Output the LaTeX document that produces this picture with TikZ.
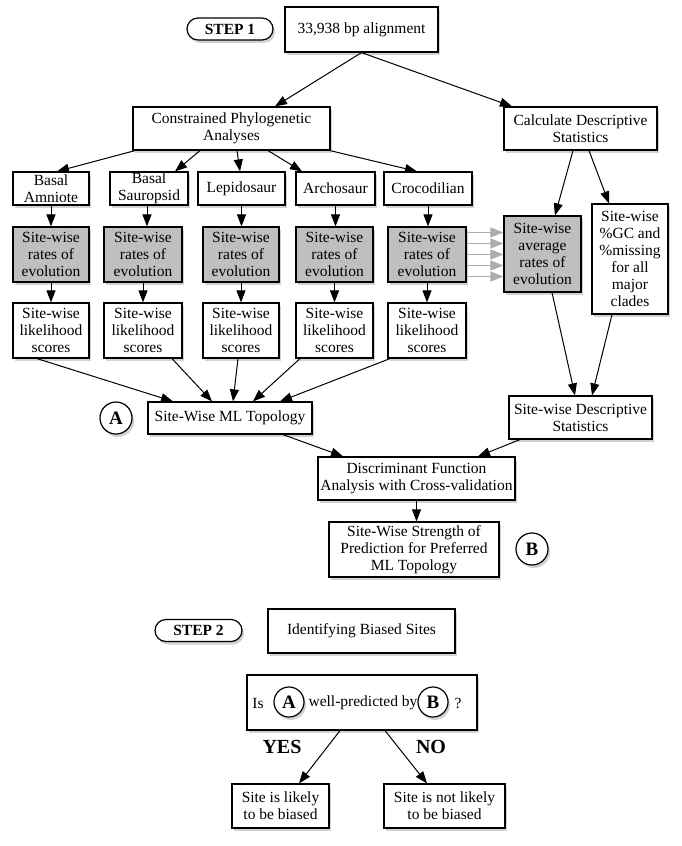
\documentclass[tikz,border=0pt]{standalone}
\usepackage{fontspec}
\setmainfont{Liberation Serif}
\usetikzlibrary{arrows.meta,shadows,calc}
\begin{document}
\begin{tikzpicture}[x=1pt,y=-1pt,
  shad/.style={drop shadow={shadow xshift=2pt,shadow yshift=-3pt,opacity=0.35}},
  box/.style={draw=black,line width=1.2pt,fill=white,align=center,inner sep=0pt,
    font=\fontsize{15.5}{17}\selectfont,shad},
  gbox/.style={box,fill=gray!50},
  sz/.style 2 args={minimum width=#1,minimum height=#2},
  pill/.style={box,rounded corners=11pt,font=\fontsize{15.5}{17}\selectfont\bfseries},
  lett/.style={draw=black,line width=1.2pt,fill=white,circle,inner sep=0pt,minimum size=32pt,
    font=\fontsize{19}{21}\selectfont\bfseries,shad},
  arr/.style={line width=1pt,-{Triangle[length=12pt,width=9pt]}},
  garr/.style={line width=1.3pt,draw=gray!65,-{Triangle[length=13pt,width=10pt]},color=gray!65},
  txt/.style={inner sep=0pt,font=\fontsize{15.5}{17}\selectfont},
  big/.style={inner sep=0pt,font=\fontsize{20}{22}\selectfont\bfseries}
]
\fill[white] (0,0) rectangle (682,846);
\useasboundingbox (0,0) rectangle (682,846);

% STEP 1
\node[pill,sz={86pt}{22pt}] (step1) at (230,29) {STEP 1};
\node[box,sz={153pt}{45pt}] (align) at (361.5,29.5) {33,938 bp alignment};
\node[box,sz={197pt}{43pt}] (cpa) at (231.5,128.5) {Constrained Phylogenetic\\Analyses};
\node[box,sz={153pt}{43pt}] (cds) at (580.5,128.5) {Calculate Descriptive\\Statistics};

\node[box,sz={76pt}{33pt}] (ba) at (51,188.5) {Basal\\Amniote};
\node[box,sz={78pt}{33pt}] (bs) at (149,188.5) {Basal\\Sauropsid};
\node[box,sz={87pt}{33pt}] (le) at (241.5,188.5) {Lepidosaur};
\node[box,sz={79pt}{33pt}] (ar) at (335.5,188.5) {Archosaur};
\node[box,sz={88pt}{33pt}] (cr) at (428,188.5) {Crocodilian};

\foreach \n/\x/\w in {1/51/76,2/143/78,3/241/76,4/334.5/77,5/427/78}{
  \node[gbox,sz={\w pt}{55pt}] (r\n) at (\x,254.5) {Site-wise\\rates of\\evolution};
  \node[box,sz={\w pt}{55pt}] (l\n) at (\x,330.5) {Site-wise\\likelihood\\scores};
}

\node[gbox,sz={77pt}{76pt}] (avg) at (542.5,254) {Site-wise\\average\\rates of\\evolution};
\node[box,sz={76pt}{110pt}] (gc) at (630,259) {Site-wise\\\%GC and\\\%missing\\for all\\major\\clades};

\node[lett] (A) at (116,418) {A};
\node[box,sz={164pt}{32pt}] (ml) at (230,418) {Site-Wise ML Topology};
\node[box,sz={143pt}{43pt}] (sds) at (580.5,417.5) {Site-wise Descriptive\\Statistics};
\node[box,sz={197pt}{43pt}] (dfa) at (416.5,478.5) {Discriminant Function\\Analysis with Cross-validation};
\node[box,sz={170pt}{55pt}] (str) at (414,549.5) {Site-Wise Strength of\\Prediction for Preferred\\ML Topology};
\node[lett] (B) at (532,549) {B};

% arrows step 1
\draw[arr] (align.south) -- ([xshift=43.5pt]cpa.north);
\draw[arr] (align.south) -- ([xshift=-68.5pt]cds.north);
\draw[arr] ([xshift=-96.5pt]cpa.south) -- ([xshift=6pt]ba.north);
\draw[arr] ([xshift=-31.5pt]cpa.south) -- ([xshift=26pt]bs.north);
\draw[arr] ([xshift=5.5pt]cpa.south) -- ([xshift=-1.5pt]le.north);
\draw[arr] ([xshift=36.5pt]cpa.south) -- ([xshift=-33.5pt]ar.north);
\draw[arr] ([xshift=98.5pt]cpa.south) -- ([xshift=-11pt]cr.north);
\draw[arr] (ba.south) -- (ba.south |- r1.north);
\draw[arr] ([xshift=-2pt]bs.south) -- ([xshift=-2pt]bs.south |- r2.north);
\draw[arr] (le.south) -- (le.south |- r3.north);
\draw[arr] (ar.south) -- (ar.south |- r4.north);
\draw[arr] (cr.south) -- (cr.south |- r5.north);
\foreach \n in {1,...,5}{\draw[arr] (r\n.south) -- (l\n.north);}
\foreach \d in {22,11,0,-11,-22}{\draw[garr] ([yshift=\d pt]r5.east) -- ([yshift=\d pt]r5.east -| avg.west);}
\draw[arr] ([xshift=-7.5pt]cds.south) -- ([xshift=12.5pt]avg.north);
\draw[arr] ([xshift=8.5pt]cds.south) -- ([xshift=-21pt]gc.north);
\draw[arr] ([xshift=9.5pt]avg.south) -- ([xshift=-5.5pt]sds.north);
\draw[arr] ([xshift=-18pt]gc.south) -- ([xshift=11.5pt]sds.north);
\draw[arr] ([xshift=-14pt]l1.south) -- ([xshift=-57pt]ml.north);
\draw[arr] ([xshift=29pt]l2.south) -- ([xshift=-18pt]ml.north);
\draw[arr] ([xshift=-3pt]l3.south) -- ([xshift=3pt]ml.north);
\draw[arr] ([xshift=-34.5pt]l4.south) -- ([xshift=23pt]ml.north);
\draw[arr] ([xshift=-37pt]l5.south) -- ([xshift=50pt]ml.north);
\draw[arr] ([xshift=53pt]ml.south) -- ([xshift=-73.5pt]dfa.north);
\draw[arr] ([xshift=-60.5pt]sds.south) -- ([xshift=61.5pt]dfa.north);
\draw[arr] (dfa.south) -- (dfa.south |- str.north);

% STEP 2
\node[pill,sz={87pt}{22pt}] (step2) at (198.5,630.5) {STEP 2};
\node[box,sz={187pt}{44pt}] (ibs) at (361.5,631) {Identifying Biased Sites};
\node[box,sz={230pt}{55pt}] (isbox) at (362,702.5) {};
\node[txt] (is) at (258,703) {Is};
\node[lett,minimum size=30pt,drop shadow={opacity=0}] (A2) at (289,702) {A};
\node[txt] (wp) at (363,703) {well-predicted by};
\node[lett,minimum size=30pt,drop shadow={opacity=0}] (B2) at (433,702) {B};
\node[txt] (q) at (458,703) {?};
\node[big] (yes) at (282,747) {YES};
\node[big] (no) at (431,747) {NO};
\node[box,sz={97pt}{44pt}] (lik) at (280.5,806) {Site is likely\\to be biased};
\node[box,sz={121pt}{44pt}] (nlik) at (444.5,806) {Site is not likely\\to be biased};
\draw[arr] ([xshift=-22pt]isbox.south) -- ([xshift=18.5pt]lik.north);
\draw[arr] ([xshift=23pt]isbox.south) -- ([xshift=-17.5pt]nlik.north);
\end{tikzpicture}
\end{document}
